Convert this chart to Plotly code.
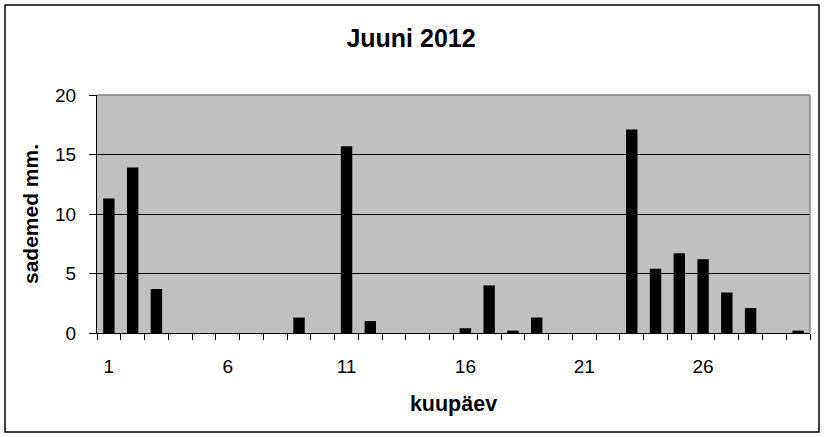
import plotly.graph_objects as go

days = list(range(1, 31))
rain_mm = [11.3, 13.9, 3.7, 0, 0, 0, 0, 0, 1.3, 0,
           15.7, 1.0, 0, 0, 0, 0.4, 4.0, 0.2, 1.3, 0,
           0, 0, 17.1, 5.4, 6.7, 6.2, 3.4, 2.1, 0, 0.2]
x_tick_vals = [1, 6, 11, 16, 21, 26]
y_tick_vals = [0, 5, 10, 15, 20]

W, H = 825, 437
L, R, T, B = 97, 15, 95, 104
pw, ph = W - L - R, H - T - B

def px_x(x):
    return (x - L) / pw

def px_y(y):
    return (H - B - y) / ph

FONT = "Arial, Liberation Sans, sans-serif"

fig = go.Figure(go.Bar(x=days, y=rain_mm, marker=dict(color="black", line=dict(width=0))))

fig.update_layout(
    width=W, height=H,
    margin=dict(l=L, r=R, t=T, b=B, autoexpand=False),
    paper_bgcolor="white",
    plot_bgcolor="#C0C0C0",
    bargap=0.52,
    showlegend=False,
    font=dict(family=FONT, color="black"),
    title=dict(text="<b>Juuni 2012</b>", x=411 / W, xanchor="center",
               y=1 - 38 / H, yanchor="middle", yref="container",
               font=dict(size=25, family=FONT, color="black")),
)

fig.update_xaxes(
    range=[0.5, 30.5],
    automargin=False,
    tickvals=x_tick_vals,
    ticktext=[str(v) for v in x_tick_vals],
    ticks="outside", ticklen=6, tickcolor="rgba(0,0,0,0)",
    ticklabelstandoff=10,
    tickfont=dict(size=19, family=FONT),
    showline=True, linecolor="black", linewidth=1,
    showgrid=False, zeroline=False,
    minor=dict(tickvals=[i + 0.5 for i in range(0, 31)], ticks="outside",
               ticklen=6, tickcolor="black", tickwidth=1, showgrid=False),
    title=dict(text="<b>kuupäev</b>", font=dict(size=21.5, family=FONT), standoff=20),
)
fig.update_yaxes(
    range=[0, 20],
    automargin=False,
    tickvals=y_tick_vals,
    ticks="outside", ticklen=7, tickcolor="black", tickwidth=1,
    ticklabelstandoff=9,
    tickfont=dict(size=19, family=FONT),
    showline=True, linecolor="black", linewidth=1,
    showgrid=True, gridcolor="black", gridwidth=1,
    zeroline=False,
    title=dict(text="<b>sademed mm.</b>", font=dict(size=21, family=FONT), standoff=10),
)

# plot area top/right border (gray)
fig.add_shape(type="line", xref="paper", yref="paper", x0=0, x1=1, y0=1, y1=1,
              line=dict(color="#808080", width=1.5), layer="above")
fig.add_shape(type="line", xref="paper", yref="paper", x0=1, x1=1, y0=0, y1=1,
              line=dict(color="#808080", width=1.5), layer="above")
# chart outer border
fig.add_shape(type="rect", xref="paper", yref="paper",
              x0=px_x(5), x1=px_x(819), y0=px_y(432), y1=px_y(5),
              line=dict(color="black", width=1.5), fillcolor="rgba(0,0,0,0)", layer="above")

fig.write_html("out.html", config={"displayModeBar": False},
               post_script="document.body.style.margin='0px';")
